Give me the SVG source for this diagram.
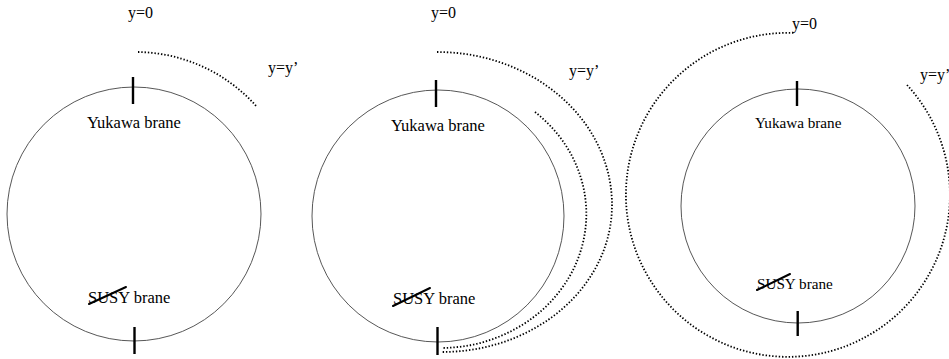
<svg xmlns="http://www.w3.org/2000/svg" width="949" height="359" viewBox="0 0 949 359">
<style>
.bg{fill:#fff}
.ring{fill:none;stroke:#444;stroke-width:0.9}
.tick{stroke:#000;stroke-width:2.4;stroke-linecap:butt}
.strike{stroke:#000;stroke-width:2;stroke-linecap:round}
.dot{fill:none;stroke:#000;stroke-width:1.8;stroke-dasharray:1.4 1.9}
.t{font-family:"Liberation Serif","Times New Roman",serif;font-size:16px;fill:#000}
.b{font-size:16.5px}
.s{font-size:15.2px}
</style>
<rect class="bg" width="949" height="359"/>
<g id="panel1">
  <circle class="ring" cx="134" cy="214" r="127"/>
  <line class="tick" x1="133" y1="77" x2="133" y2="104"/>
  <line class="tick" x1="134.5" y1="327" x2="134.5" y2="354"/>
  <text class="t" x="128" y="18">y=0</text>
  <text class="t" x="268" y="73">y=y’</text>
  <text class="t b" x="87" y="128">Yukawa brane</text>
  <text class="t b" x="88" y="303">SUSY brane</text>
  <line class="strike" x1="89" y1="304" x2="126" y2="287"/>
  <path class="dot" d="M138,52 A162,162 0 0 1 257,107"/>
</g>
<g id="panel2">
  <circle class="ring" cx="438" cy="216" r="126"/>
  <line class="tick" x1="436" y1="80" x2="436" y2="107"/>
  <line class="tick" x1="437.5" y1="327" x2="437.5" y2="355"/>
  <text class="t" x="431" y="18">y=0</text>
  <text class="t" x="569" y="76">y=y’</text>
  <text class="t b" x="391" y="131">Yukawa brane</text>
  <text class="t b" x="393" y="304">SUSY brane</text>
  <line class="strike" x1="393" y1="306" x2="430" y2="288"/>
  <path class="dot" d="M437,52 A175,153 0 0 1 612,205 A170,147 0 0 1 442,352"/>
  <path class="dot" d="M535,112 A146,134 0 0 1 442,348"/>
</g>
<g id="panel3">
  <circle class="ring" cx="798" cy="206" r="117"/>
  <line class="tick" x1="797" y1="81" x2="797" y2="106"/>
  <line class="tick" x1="797.7" y1="311" x2="797.7" y2="336"/>
  <text class="t" x="792" y="29">y=0</text>
  <text class="t" x="920" y="80">y=y’</text>
  <text class="t s" x="755" y="128">Yukawa brane</text>
  <text class="t s" x="757" y="289">SUSY brane</text>
  <line class="strike" x1="757" y1="290" x2="790" y2="274"/>
  <path class="dot" d="M907,85 A162,162 0 1 1 795,33"/>
</g>
</svg>
